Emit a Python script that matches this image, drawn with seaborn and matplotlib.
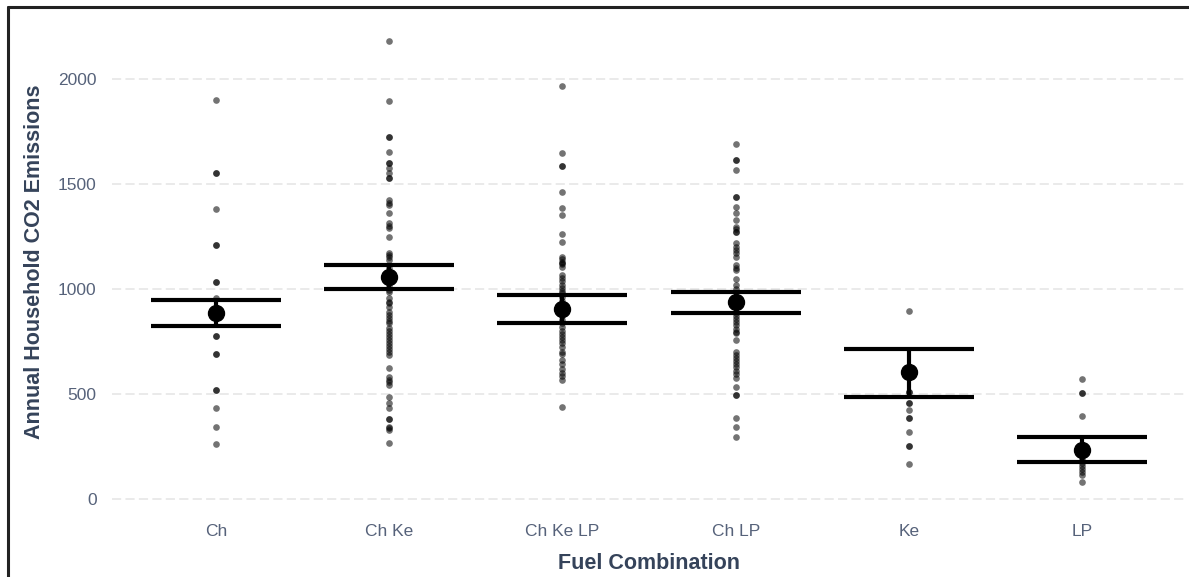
import matplotlib
matplotlib.use("Agg")
import matplotlib.pyplot as plt
from matplotlib.lines import Line2D
import numpy as np
import pandas as pd
import seaborn as sns

# categories on the x axis
fuel = ["Ch", "Ch Ke", "Ch Ke LP", "Ch LP", "Ke", "LP"]

# household values per category (repeated values = overlapping points)
ch = [1899, 1552, 1552, 1378, 1208, 1208, 1030, 1030, 954, 883, 775, 775,
      688, 688, 518, 518, 430, 343, 260]
ch_ke = [2178, 1893, 1724, 1724, 1652, 1597, 1597, 1573, 1550, 1526, 1526,
         1422, 1410, 1398, 1359, 1313, 1300, 1289, 1248, 1170, 1160, 1150,
         1137, 1100, 1080, 1060, 1040, 1020, 994, 986, 955, 938, 930, 913,
         889, 875, 860, 848, 836, 813, 800, 785, 770, 756, 741, 728, 715,
         700, 684, 622, 580, 567, 554, 541, 486, 457, 430, 378, 378, 343,
         335, 327, 267]
ch_ke_lp = [1967, 1648, 1586, 1586, 1459, 1386, 1350, 1259, 1222, 1152, 1140,
            1128, 1121, 1116, 1105, 1064, 1050, 1035, 1020, 1005, 990, 978,
            960, 940, 920, 905, 890, 870, 850, 837, 817, 800, 785, 770, 755,
            740, 722, 700, 690, 660, 640, 620, 600, 585, 565, 437]
ch_lp = [1689, 1614, 1614, 1565, 1438, 1438, 1391, 1359, 1327, 1295, 1283,
         1271, 1271, 1219, 1200, 1185, 1170, 1152, 1113, 1100, 1088, 1045,
         1018, 1000, 960, 938, 910, 883, 870, 855, 840, 825, 810, 795, 788,
         756, 700, 685, 670, 655, 640, 625, 610, 595, 573, 533, 494, 494,
         383, 343, 292]
ke = [895, 510, 510, 454, 454, 422, 383, 383, 319, 251, 251, 167]
lp = [571, 502, 502, 395, 217, 200, 185, 170, 155, 140, 128, 113, 78]

# group means and interval limits
means = [885, 1055, 905, 937, 602, 232]
lower = [822, 998, 837, 885, 486, 174]
upper = [948, 1113, 971, 985, 713, 295]

groups = [ch, ch_ke, ch_ke_lp, ch_lp, ke, lp]
df = pd.DataFrame({
    "fuel": np.repeat(fuel, [len(g) for g in groups]),
    "co2": np.concatenate(groups),
})

sns.set_theme(style="white")
plt.rcParams["font.family"] = ["Liberation Sans", "DejaVu Sans"]

fig = plt.figure(figsize=(11.89, 5.77), dpi=100)
ax = fig.add_axes([0.0942, 0.1258, 0.9033, 0.8408])

sns.stripplot(data=df, x="fuel", y="co2", order=fuel, jitter=False,
              color="black", alpha=0.55, size=4.8, linewidth=0, ax=ax, zorder=3)

pos = np.arange(len(fuel))
m = np.array(means)
ax.errorbar(pos, m, yerr=[m - np.array(lower), np.array(upper) - m],
            fmt="o", color="black", markersize=11.5, elinewidth=3,
            capsize=46.5, capthick=3, zorder=4)

ax.set_xlim(-0.6, 5.6)
ax.set_ylim(-27, 2283)
ax.set_yticks([0, 500, 1000, 1500, 2000])
ax.yaxis.grid(True, color="#e4e4e4", linestyle=(0, (6, 2.8)), linewidth=1.1)
ax.xaxis.grid(False)
ax.set_axisbelow(True)
for s in ax.spines.values():
    s.set_visible(False)
ax.tick_params(axis="x", length=0, labelsize=12.5, labelcolor="#56627a", pad=14)
ax.tick_params(axis="y", length=0, labelsize=12.5, labelcolor="#56627a", pad=11)

ax.set_xlabel("Fuel Combination", fontsize=15.5, fontweight="bold",
              color="#35435a", labelpad=10)
ax.set_ylabel("Annual Household CO2 Emissions", fontsize=15.5,
              fontweight="bold", color="#35435a", labelpad=9)

# frame from the screenshot
fig.add_artist(Line2D([8 / 1189, 8 / 1189], [0, 1 - 7 / 577], color="#222222",
                      linewidth=2.2, transform=fig.transFigure))
fig.add_artist(Line2D([8 / 1189, 1], [1 - 7 / 577, 1 - 7 / 577], color="#222222",
                      linewidth=2.2, transform=fig.transFigure))

fig.savefig("out.png", dpi=100)
